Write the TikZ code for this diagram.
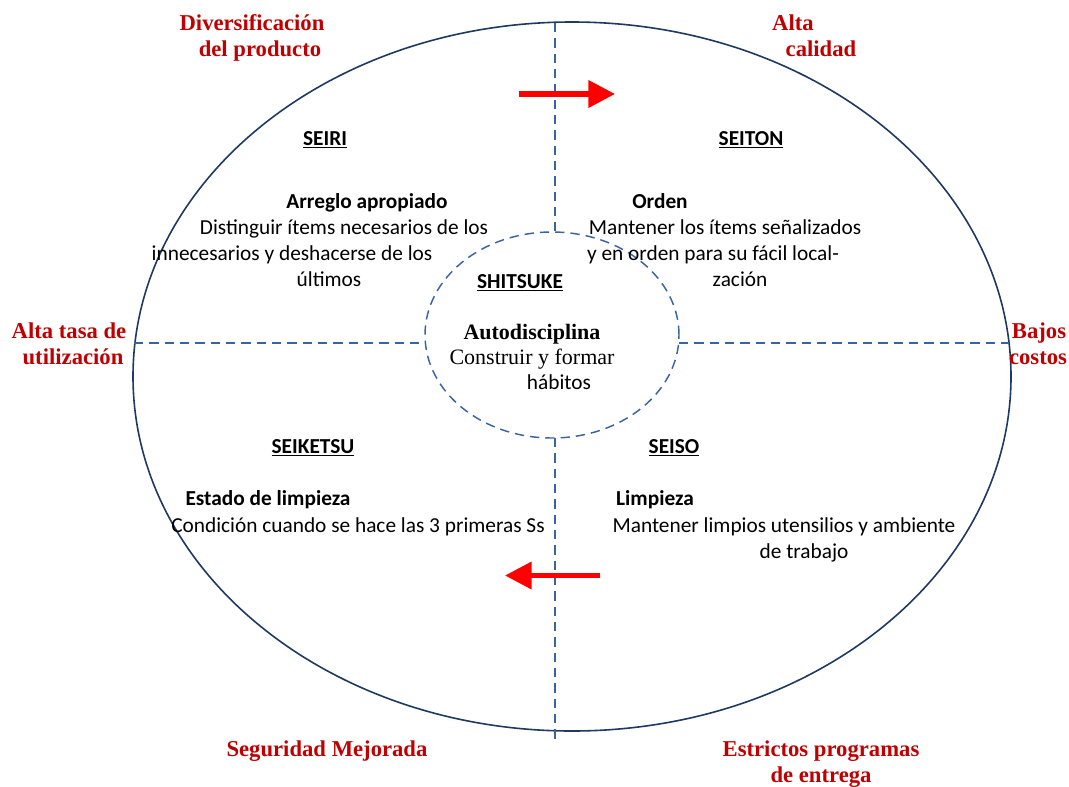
\documentclass[tikz,border=0pt]{standalone}
\usepackage{fontspec}
\setmainfont{Carlito}
\newfontfamily\tnr{Liberation Serif}
\usetikzlibrary{shapes.geometric,arrows.meta}
\definecolor{navy}{HTML}{1F3A60}
\definecolor{dashblue}{HTML}{3A64A0}
\definecolor{labelred}{HTML}{C00000}
\definecolor{arrowred}{HTML}{FF0000}
\begin{document}
\begin{tikzpicture}[x=0.75pt,y=-0.75pt,
  line/.style={inner sep=0pt, text height=0.7em, text depth=0.2em, yshift=-2.5pt},
  body/.style={line, font=\fontsize{16}{19.5}\selectfont},
  bodybold/.style={line, font=\fontsize{16}{19.5}\selectfont\bfseries},
  title/.style={line, font=\fontsize{16}{19.5}\selectfont\bfseries},
  serifbold/.style={line, font=\fontsize{16.5}{20}\tnr\bfseries},
  serif/.style={line, font=\fontsize{16.5}{20}\tnr},
  benefit/.style={line, text=labelred, font=\fontsize{17}{20}\tnr\bfseries},
  divider/.style={dashblue, line width=1.1pt, dash pattern=on 7pt off 4.5pt},
  flow/.style={arrowred, line width=3.8pt, -{Triangle[length=20pt,width=20pt]}}]
\useasboundingbox (0,0) rectangle (1069,786);

% outer cycle and central discipline ring
\node (outer) at (572,376.5) [ellipse, draw=navy, line width=1.2pt, inner sep=0pt,
  minimum width=658.5pt, minimum height=531.75pt] {};
\node (inner) at (552,335) [ellipse, draw=dashblue, line width=1.1pt,
  dash pattern=on 7pt off 4.5pt, inner sep=0pt,
  minimum width=190.5pt, minimum height=154.5pt] {};

% quadrant dividers
\coordinate (vtop) at (555,23);
\coordinate (vup) at (555,231);
\coordinate (vlow) at (555,438);
\coordinate (vbot) at (555,742);
\coordinate (hleft) at (134,343);
\coordinate (hinl) at (425,343);
\coordinate (hinr) at (679,343);
\coordinate (hright) at (1009,343);
\draw[divider] (vtop) -- (vup);
\draw[divider] (vlow) -- (vbot);
\draw[divider] (hleft) -- (hinl);
\draw[divider] (hinr) -- (hright);

% direction of the cycle
\coordinate (a1s) at (519,94);
\coordinate (a1e) at (615,94);
\coordinate (a2s) at (600,575.5);
\coordinate (a2e) at (505,575.5);
\draw[flow] (a1s) -- (a1e);
\draw[flow] (a2s) -- (a2e);

% SEIRI
\node[title] (seiri) at (325,139) {\underline{SEIRI}};
\node[bodybold] (seiri1) at (367,202) {Arreglo apropiado};
\node[body] (seiri2) at (344,228) {Distinguir ítems necesarios de los};
\node[body] (seiri3) at (292,254) {innecesarios y deshacerse de los};
\node[body] (seiri4) at (329,280) {últimos};

% SEITON
\node[title] (seiton) at (751,139) {\underline{SEITON}};
\node[bodybold] (seiton1) at (660,202) {Orden};
\node[body] (seiton2) at (725,228) {Mantener los ítems señalizados};
\node[body] (seiton3) at (713,254) {y en orden para su fácil local-};
\node[body] (seiton4) at (740,280) {zación};

% SHITSUKE
\node[title] (shitsuke) at (520,282) {\underline{SHITSUKE}};
\node[serifbold] (shitsuke1) at (532,333) {Autodisciplina};
\node[serif] (shitsuke2) at (532,358) {Construir y formar};
\node[body] (shitsuke3) at (559,383) {hábitos};

% SEIKETSU
\node[title] (seiketsu) at (313,447) {\underline{SEIKETSU}};
\node[bodybold] (seiketsu1) at (268,499) {Estado de limpieza};
\node[body] (seiketsu2) at (358,526) {Condición cuando se hace las 3 primeras Ss};

% SEISO
\node[title] (seiso) at (674,447) {\underline{SEISO}};
\node[bodybold] (seiso1) at (655,499) {Limpieza};
\node[body] (seiso2) at (784,526) {Mantener limpios utensilios y ambiente};
\node[body] (seiso3) at (804,552) {de trabajo};

% benefits around the cycle
\node[benefit] (b1a) at (252,24) {Diversificación};
\node[benefit] (b1b) at (260,50) {del producto};
\node[benefit] (b2a) at (793,24) {Alta};
\node[benefit] (b2b) at (821,50) {calidad};
\node[benefit] (b3a) at (69,332) {Alta tasa de};
\node[benefit] (b3b) at (73,358) {utilización};
\node[benefit] (b4a) at (1039,332) {Bajos};
\node[benefit] (b4b) at (1038,358) {costos};
\node[benefit] (b5) at (327,750) {Seguridad Mejorada};
\node[benefit] (b6a) at (821,750) {Estrictos programas};
\node[benefit] (b6b) at (821,776) {de entrega};
\end{tikzpicture}
\end{document}
